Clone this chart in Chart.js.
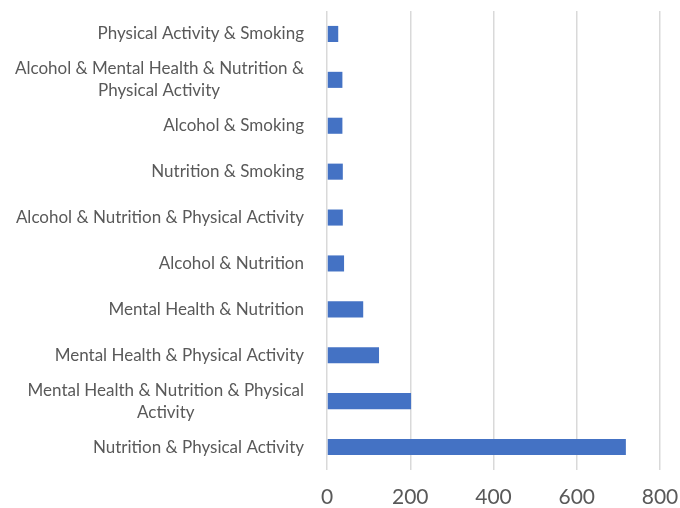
<!DOCTYPE html>
<html>
<head>
<meta charset="utf-8">
<script src="https://cdn.jsdelivr.net/npm/chart.js@4"></script>
<style>
  html, body { margin: 0; padding: 0; background: #ffffff; }
  #wrap { width: 680px; height: 508px; position: relative; }
</style>
</head>
<body>
<div id="wrap"><canvas id="c" width="680" height="508"></canvas></div>
<script>
const categories = [
  "Physical Activity & Smoking",
  ["Alcohol & Mental Health & Nutrition &", "Physical Activity"],
  "Alcohol & Smoking",
  "Nutrition & Smoking",
  "Alcohol & Nutrition & Physical Activity",
  "Alcohol & Nutrition",
  "Mental Health & Nutrition",
  "Mental Health & Physical Activity",
  ["Mental Health & Nutrition & Physical", "Activity"],
  "Nutrition & Physical Activity"
];
const counts = [27, 37, 37, 38, 38, 41, 87, 125, 202, 718];
const xTicks = [0, 200, 400, 600, 800];

const fontFamily = "Lato, 'Open Sans', 'Liberation Sans', sans-serif";
const yFontSize = 17;

// Centre continuation lines under the first line of a wrapped label
const measureCtx = document.createElement('canvas').getContext('2d');
measureCtx.font = yFontSize + "px " + fontFamily;
function centreLines(label) {
  if (!Array.isArray(label)) return label;
  const w0 = measureCtx.measureText(label[0]).width;
  const hs = measureCtx.measureText('\u200A\u200A\u200A\u200A\u200A\u200A\u200A\u200A\u200A\u200A').width / 10 || 1;
  return label.map((line, i) => {
    if (i === 0) return line;
    const w = measureCtx.measureText(line).width;
    const n = Math.max(0, Math.round((w0 - w) / 2 / hs));
    return line + '\u200A'.repeat(n);
  });
}

new Chart(document.getElementById('c'), {
  type: 'bar',
  data: {
    labels: categories,
    datasets: [{
      data: counts,
      backgroundColor: '#4472C4',
      borderWidth: 0,
      barPercentage: 0.7,
      categoryPercentage: 0.5
    }]
  },
  options: {
    indexAxis: 'y',
    responsive: false,
    animation: false,
    layout: { padding: { top: 11, right: 20, left: 0, bottom: 0 } },
    plugins: { legend: { display: false }, tooltip: { enabled: false } },
    scales: {
      x: {
        min: 0, max: 800,
        afterBuildTicks: (s) => { s.ticks = xTicks.map(v => ({ value: v })); },
        afterFit: (s) => { s.height = 38; s.paddingLeft = 0; s.paddingRight = 0; },
        grid: { color: '#d9d9d9', lineWidth: 1.5, drawTicks: false },
        border: { display: false },
        ticks: { color: '#595959', font: { family: fontFamily, size: 21 }, padding: 15 }
      },
      y: {
        afterFit: (s) => { s.width = 327; s.paddingTop = 0; s.paddingBottom = 0; },
        grid: { display: false, drawTicks: false },
        border: { display: false },
        ticks: {
          color: '#595959',
          font: { family: fontFamily, size: yFontSize, lineHeight: 1.3 },
          padding: 23,
          autoSkip: false,
          callback: (value, index) => centreLines(categories[index])
        }
      }
    }
  }
});
</script>
</body>
</html>
